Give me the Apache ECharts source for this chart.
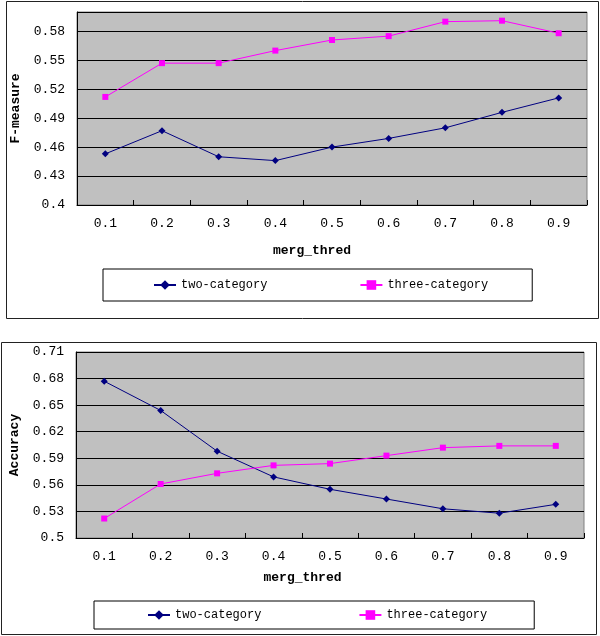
<!DOCTYPE html>
<html>
<head>
<meta charset="utf-8">
<script src="https://cdn.jsdelivr.net/npm/echarts@6/dist/echarts.min.js"></script>
<style>html,body{margin:0;padding:0;background:#fff;}#c{width:600px;height:636px;}</style>
</head>
<body>
<div id="c"></div>
<script>
const categories = ['0.1','0.2','0.3','0.4','0.5','0.6','0.7','0.8','0.9'];
const fTwo = [0.453, 0.477, 0.450, 0.446, 0.460, 0.469, 0.480, 0.496, 0.511];
const fThree = [0.512, 0.547, 0.547, 0.560, 0.571, 0.575, 0.590, 0.591, 0.578];
const accTwo = [0.677, 0.644, 0.598, 0.569, 0.555, 0.544, 0.533, 0.528, 0.538];
const accThree = [0.522, 0.561, 0.573, 0.582, 0.584, 0.593, 0.602, 0.604, 0.604];
const seriesNames = ['two-category', 'three-category'];
const xTitle = 'merg_thred';
const yTitles = ['F-measure', 'Accuracy'];

const FONT = 'Liberation Mono';
const chart = echarts.init(document.getElementById('c'), null, {renderer: 'canvas'});

function xAxis(gridIndex, gap, pad) {
  return {
    type: 'category', gridIndex, data: categories, boundaryGap: true,
    axisLine: {lineStyle: {color: '#000', width: 1}},
    axisTick: {show: true, inside: true, length: 5, lineStyle: {color: '#000'}},
    axisLabel: {color: '#000', fontFamily: FONT, fontSize: 13, margin: 12},
    name: xTitle, nameLocation: 'middle', nameGap: gap,
    nameTextStyle: {color: '#000', fontFamily: FONT, fontSize: 13, fontWeight: 'bold', padding: pad}
  };
}
function yAxis(gridIndex, min, max, title, showMax) {
  return {
    type: 'value', gridIndex, min, max, interval: 0.03,
    axisLine: {show: true, lineStyle: {color: '#000', width: 1}},
    axisTick: {show: false},
    axisLabel: {color: '#000', fontFamily: FONT, fontSize: 13, margin: 12, showMaxLabel: showMax},
    splitLine: {show: true, lineStyle: {color: '#000', width: 1}},
    name: title, nameLocation: 'middle', nameGap: 55, nameRotate: 90,
    nameTextStyle: {color: '#000', fontFamily: FONT, fontSize: 13, fontWeight: 'bold'}
  };
}
function lineSeries(name, data, idx, color, symbol, size) {
  return {
    name, type: 'line', data, xAxisIndex: idx, yAxisIndex: idx,
    symbol, symbolSize: size, showSymbol: true,
    lineStyle: {color, width: 1}, itemStyle: {color},
    emphasis: {disabled: true}
  };
}
function legendBox(left, top, padding, gap) {
  return {
    left, top, orient: 'horizontal',
    padding, itemGap: gap, itemWidth: 22, itemHeight: 12,
    borderColor: '#000', borderWidth: 1, backgroundColor: '#fff',
    textStyle: {color: '#000', fontFamily: FONT, fontSize: 12},
    data: seriesNames.map(n => ({name: n})),
    selectedMode: false
  };
}

chart.setOption({
  animation: false,
  backgroundColor: '#fff',
  graphic: [
    {type: 'rect', shape: {x: 6.5, y: 1.5, width: 592, height: 317}, style: {fill: null, stroke: '#222', lineWidth: 1}, z: -10},
    {type: 'rect', shape: {x: 1.5, y: 342.5, width: 595, height: 292}, style: {fill: null, stroke: '#222', lineWidth: 1}, z: -10}
  ],
  grid: [
    {left: 77, top: 12, width: 510, height: 193, show: true, backgroundColor: '#C0C0C0', borderColor: '#808080', borderWidth: 1},
    {left: 71, top: 352, width: 513, height: 186, show: true, backgroundColor: '#C0C0C0', borderColor: '#808080', borderWidth: 1}
  ],
  xAxis: [xAxis(0, 39, [0, 40, 0, 0]), xAxis(1, 33, [0, 55, 0, 0])],
  yAxis: [yAxis(0, 0.4, 0.6, yTitles[0], false), yAxis(1, 0.5, 0.71, yTitles[1], true)],
  legend: [
    legendBox(103, 269, [10, 44, 10, 50], 92),
    legendBox(94, 601, [8, 47, 8, 53], 97)
  ],
  series: [
    lineSeries(seriesNames[0], fTwo, 0, '#000080', 'diamond', 7),
    lineSeries(seriesNames[1], fThree, 0, '#FF00FF', 'rect', 6),
    lineSeries(seriesNames[0], accTwo, 1, '#000080', 'diamond', 7),
    lineSeries(seriesNames[1], accThree, 1, '#FF00FF', 'rect', 6)
  ]
});
</script>
</body>
</html>
